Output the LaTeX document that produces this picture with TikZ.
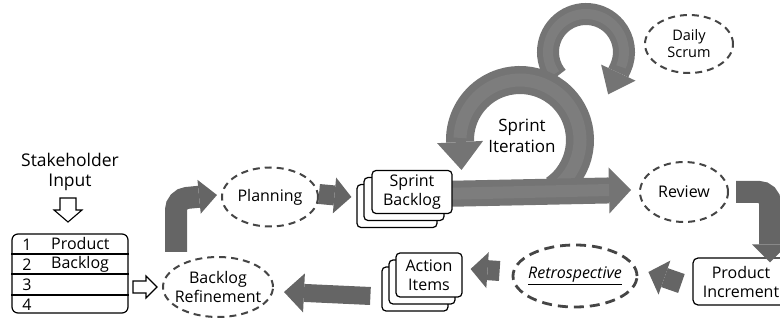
\documentclass[tikz,border=0pt]{standalone}
\usepackage{fontspec}
\setmainfont{Open Sans}
\usetikzlibrary{arrows.meta,shapes.geometric,calc}
\definecolor{arrowgray}{HTML}{656565}
\definecolor{ringgray}{HTML}{747474}
\definecolor{ringlight}{HTML}{7D7D7D}
\definecolor{dashgray}{HTML}{454545}
\begin{document}
\begin{tikzpicture}[x=1pt,y=-1pt,
  txt/.style={font=\fontsize{16}{19}\selectfont, align=center, inner sep=0pt},
  dell/.style={ellipse, draw=dashgray, line width=2pt, dash pattern=on 7pt off 5pt, inner sep=0pt},
  cardbox/.style={draw=black, fill=white, line width=1.2pt, rounded corners=4pt, minimum width=80pt, minimum height=43pt, inner sep=0pt},
  fatarrow/.style={draw=arrowgray, line width=20pt},
  ringarrow/.style={draw=ringgray},
  ringhl/.style={draw=ringlight},
  hollow/.style={draw=black, fill=white, line width=1.1pt, line join=miter}]
\useasboundingbox (0,0) rectangle (780,320);
\clip (0,0) rectangle (780,320);

% ---- ellipse nodes ----
\node[dell, minimum width=110pt, minimum height=60pt] (ref) at (218,287) {};
\node[dell, minimum width=96pt, minimum height=59pt] (plan) at (270,197) {};
\node[dell, minimum width=88pt, minimum height=60pt] (rev) at (684,192) {};
\node[dell, minimum width=88pt, minimum height=58pt] (daily) at (689,44) {};
\node[ellipse, draw=dashgray, line width=2.8pt, dash pattern=on 10pt off 6pt, inner sep=0pt,
      minimum width=124pt, minimum height=62pt] (retro) at (575,276) {};

% ---- Daily scrum ring ----
\coordinate (dc) at (586,52);
\draw[ringarrow, line width=22pt, -{Triangle[length=24pt,width=38pt,line width=0pt]}]
  ($(dc)+(140:38)$) arc[start angle=140, end angle=385, radius=38] -- ++(-12.3,26.3);
\draw[ringhl, line width=10pt] ($(dc)+(145:38)$) arc[start angle=145, end angle=383, radius=38];

% ---- Sprint iteration ring ----
\coordinate (bc) at (520,140);
\draw[ringarrow, line width=28pt, -{Triangle[length=28pt,width=46pt,line width=0pt]}]
  ($(bc)+(55:60)$) arc[start angle=55, end angle=-180, radius=60] -- ++(1.5,30);
\draw[ringhl, line width=13pt] ($(bc)+(50:60)$) arc[start angle=50, end angle=-178, radius=60];

% main shaft to Review
\coordinate (shaftstart) at (440,194);
\draw[ringarrow, line width=26pt, -{Triangle[length=22pt,width=46pt,line width=0pt]}]
  (shaftstart) -- ([xshift=-8,yshift=2]rev.west);
\draw[ringhl, line width=12pt] (shaftstart) -- ([xshift=-30,yshift=2]rev.west);

% ---- stacked Sprint Backlog cards ----
\node[cardbox] (sb3) at (397,206) {};
\node[cardbox] (sb2) at (404,199) {};
\node[cardbox, label={[txt]center:Sprint\\Backlog}] (sb1) at (412,192) {};

% ---- Action items cards ----
\node[cardbox, minimum width=66pt, minimum height=44pt] (ai3) at (415,289) {};
\node[cardbox, minimum width=66pt, minimum height=44pt] (ai2) at (422,282) {};
\node[cardbox, minimum width=66pt, minimum height=44pt, label={[txt]center:Action\\Items}] (ai1) at (429,275) {};

% ---- Product increment ----
\node[draw=black, fill=white, line width=1.2pt, rounded corners=5pt, minimum width=100pt,
      minimum height=47pt, inner sep=0pt] (pi) at (743,281.5) {};
\node[txt] (pitxt) at (741,282) {Product\\Increment};

% ---- Product backlog table ----
\node[draw=black, line width=1.2pt, rounded corners=6pt, minimum width=116pt, minimum height=79pt,
      inner sep=0pt] (pb) at (70,273.5) {};
\coordinate (r1) at (0,254);
\coordinate (r2) at (0,274);
\coordinate (r3) at (0,295);
\draw[line width=1.2pt] (pb.west |- r1) -- (pb.east |- r1);
\draw[line width=1.2pt] (pb.west |- r2) -- (pb.east |- r2);
\draw[line width=1.2pt] (pb.west |- r3) -- (pb.east |- r3);
\node[txt] (n1) at (27,245) {1};
\node[txt] (n2) at (27,265) {2};
\node[txt] (n3) at (27,284.5) {3};
\node[txt] (n4) at (27,305) {4};
\node[txt, anchor=west] (pbt1) at (51,244) {Product};
\node[txt, anchor=west] (pbt2) at (51,264.5) {Backlog};

% ---- Stakeholder input ----
\node[txt, font=\fontsize{17.5}{20}\selectfont] (stake) at (70,172) {Stakeholder\\Input};
\draw[hollow] (60,198) -- (76,198) -- (76,210) -- (82,210) -- (68,222) -- (54,210) -- (60,210) -- cycle;
\draw[hollow] (133,281) -- (146,281) -- (146,276) -- (157,287) -- (146,298) -- (146,293) -- (133,293) -- cycle;

% ---- gray connectors ----
\coordinate (bendL) at (176,199);
\draw[fatarrow, line width=22pt, rounded corners=11pt, -{Triangle[length=18pt,width=34pt,line width=0pt]}]
  (176,252) -- (bendL) -- ([xshift=-4,yshift=2]plan.west);
\draw[fatarrow, -{Triangle[length=17pt,width=36pt,line width=0pt]}]
  ([yshift=3]plan.east) -- ([xshift=-5]plan.east -| sb3.west);
\coordinate (bendR) at (770,192);
\draw[fatarrow, line width=22pt, rounded corners=11pt, -{Triangle[length=18pt,width=36pt,line width=0pt]}]
  ([xshift=7]rev.east) -- (bendR) -- ([yshift=-5]bendR |- pi.north);
\draw[fatarrow, -{Triangle[length=17pt,width=36pt,line width=0pt]}]
  ([xshift=-11,yshift=-2]pi.west) -- ([xshift=10,yshift=4]retro.east);
\draw[fatarrow, -{Triangle[length=17pt,width=36pt,line width=0pt]}]
  ([xshift=-12,yshift=5]retro.west) -- ([xshift=8,yshift=6]ai1.east);
\draw[fatarrow, line width=18pt, -{Triangle[length=20pt,width=39pt,line width=0pt]}]
  ([xshift=-11,yshift=-7]ai3.west) -- ([xshift=10,yshift=-5]ref.east);

% ---- ellipse texts ----
\node[txt] (reft) at (ref) {Backlog\\Refinement};
\node[txt] (plant) at (plan) {Planning};
\node[txt] (revt) at (rev) {Review};
\node[txt, font=\fontsize{14.5}{17}\selectfont] (dailyt) at (daily) {Daily\\Scrum};
\node[txt] (retrot) at (retro) {\itshape\underline{Retrospective}};
\node[txt, font=\fontsize{17}{21}\selectfont] (iter) at (522,136) {Sprint\\Iteration};
\end{tikzpicture}
\end{document}
